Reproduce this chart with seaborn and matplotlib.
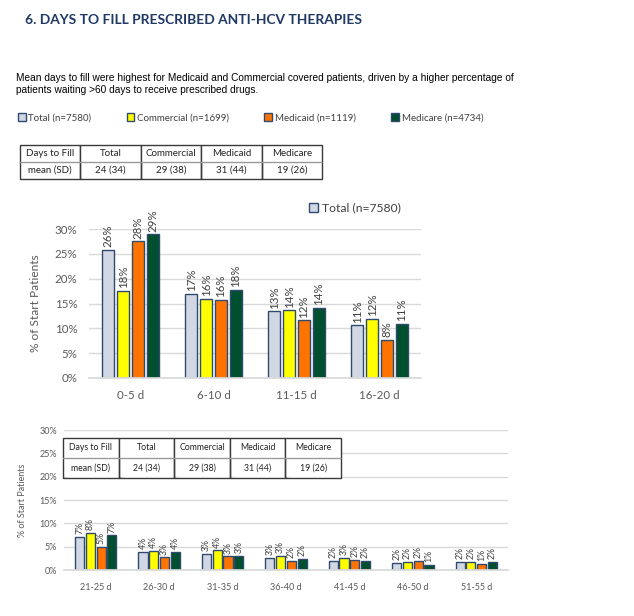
import numpy as np
import pandas as pd
import matplotlib
matplotlib.use('Agg')
import matplotlib.pyplot as plt
from matplotlib import font_manager
import seaborn as sns

# data (percent of start patients)
groups = ['Total (n=7580)', 'Commercial (n=1699)', 'Medicaid (n=1119)', 'Medicare (n=4734)']
colors = ['#D1D7E3', '#FFFF00', '#FF7300', '#00502F']

top_bins = ['0-5 d', '6-10 d', '11-15 d', '16-20 d']
top_total = [25.8, 16.9, 13.4, 10.6]
top_commercial = [17.5, 16.0, 13.6, 11.9]
top_medicaid = [27.5, 15.8, 11.6, 7.7]
top_medicare = [28.9, 17.7, 14.1, 10.9]

bottom_bins = ['21-25 d', '26-30 d', '31-35 d', '36-40 d', '41-45 d', '46-50 d', '51-55 d']
bottom_total = [7.1, 3.9, 3.4, 2.6, 2.0, 1.6, 1.7]
bottom_commercial = [8.0, 4.1, 4.2, 3.1, 2.6, 1.7, 1.7]
bottom_medicaid = [4.9, 2.7, 2.9, 2.0, 2.1, 2.0, 1.3]
bottom_medicare = [7.4, 3.9, 3.1, 2.4, 1.9, 1.1, 1.7]

table_cols = ['Days to Fill', 'Total', 'Commercial', 'Medicaid', 'Medicare']
table_row = ['mean (SD)', '24 (34)', '29 (38)', '31 (44)', '19 (26)']

title = '6. DAYS TO FILL PRESCRIBED ANTI-HCV THERAPIES'
subtitle = ('Mean days to fill were highest for Medicaid and Commercial covered patients, driven by a higher percentage of\n'
            'patients waiting >60 days to receive prescribed drugs.')

sns.set_theme(style='white')
names = {f.name for f in font_manager.fontManager.ttflist}
chart_font = 'Lato' if 'Lato' in names else 'DejaVu Sans'
plt.rcParams['font.family'] = [chart_font, 'DejaVu Sans']

W, H = 634, 616
fig = plt.figure(figsize=(W / 100, H / 100), dpi=100)
fig.patch.set_facecolor('white')


def px_axes(left, top, right, bottom):
    return fig.add_axes([left / W, 1 - bottom / H, (right - left) / W, (bottom - top) / H])


def long_frame(bins, series):
    rows = []
    for g, vals in zip(groups, series):
        for b, v in zip(bins, vals):
            rows.append({'bin': b, 'group': g, 'pct': v})
    return pd.DataFrame(rows)


def draw_bars(ax, df, bins, width, label_size, tick_size, ylab_size, xpad, ypad, lpad):
    sns.barplot(data=df, x='bin', y='pct', hue='group', order=bins, hue_order=groups,
                palette=colors, width=width, gap=0.15, edgecolor='#2E4A70', linewidth=1.0,
                saturation=1, ax=ax)
    for cont in ax.containers:
        ax.bar_label(cont, fmt='{:.0f}%', rotation=90, padding=2, fontsize=label_size,
                     color='#404040', clip_on=False)
    ax.set_ylim(0, 30)
    ax.set_yticks(np.arange(0, 31, 5))
    ax.set_yticklabels([f'{t}%' for t in range(0, 31, 5)])
    ax.yaxis.grid(True, color='#D9D9D9', linewidth=1)
    ax.set_axisbelow(True)
    for s in ['top', 'right', 'left']:
        ax.spines[s].set_visible(False)
    ax.spines['bottom'].set_color('#D9D9D9')
    ax.tick_params(axis='both', length=0, colors='#595959', labelsize=tick_size)
    ax.tick_params(axis='x', pad=xpad)
    ax.tick_params(axis='y', pad=ypad)
    ax.set_xlabel('')
    ax.set_ylabel('% of Start Patients', color='#595959', fontsize=ylab_size, labelpad=lpad)


def draw_table(ax, size):
    ax.axis('off')
    tb = ax.table(cellText=[table_cols, table_row], cellLoc='center', bbox=[0, 0, 1, 1])
    tb.auto_set_font_size(False)
    for (r, c), cell in tb.get_celld().items():
        cell.visible_edges = 'LTR' if r == 0 else 'LRB'
        cell.set_edgecolor('#3A3A3A')
        cell.set_linewidth(1)
        cell.get_text().set_fontsize(size)
        cell.get_text().set_color('#222222')
    ax.axhline(0.5, color='#9A9A9A', linewidth=1)


# header texts
fig.text(25 / W, 1 - 20 / H, title, fontsize=9.9, fontweight='bold', color='#1F3864',
         va='center', ha='left')
fig.text(16 / W, 1 - 84 / H, subtitle, fontsize=7.3, color='black', va='center', ha='left',
         family='Liberation Sans', linespacing=1.35)

# top chart
ax1 = px_axes(89, 229, 421, 378)
draw_bars(ax1, long_frame(top_bins, [top_total, top_commercial, top_medicaid, top_medicare]),
          top_bins, 0.72, 8.3, 8.3, 8.6, 8.5, 8.5, 10)
handles, labels = ax1.get_legend_handles_labels()
ax1.get_legend().remove()
ax1.legend(handles[:1], labels[:1], loc='center left', bbox_to_anchor=(298 / W, 1 - 208 / H),
           bbox_transform=fig.transFigure, frameon=False, fontsize=8.7, handlelength=0.75,
           handleheight=0.75, handletextpad=0.3, labelcolor='#404040')

# legend row across the page
fig.legend(handles, labels, loc='center left', bbox_to_anchor=(9 / W, 1 - 118 / H), ncol=4,
           frameon=False, fontsize=7, handlelength=0.8, handleheight=0.8, handletextpad=0.3,
           columnspacing=3.6, labelcolor='#404040')

# table under the legend row
draw_table(px_axes(20, 145, 322, 179), 7)

# bottom chart
ax2 = px_axes(64, 430, 508, 570)
draw_bars(ax2, long_frame(bottom_bins, [bottom_total, bottom_commercial, bottom_medicaid, bottom_medicare]),
          bottom_bins, 0.68, 6.3, 6.5, 6.5, 9.5, 5, 9)
ax2.get_legend().remove()
draw_table(px_axes(63, 438, 341, 478), 6.3)

fig.savefig('out.png', dpi=100)
